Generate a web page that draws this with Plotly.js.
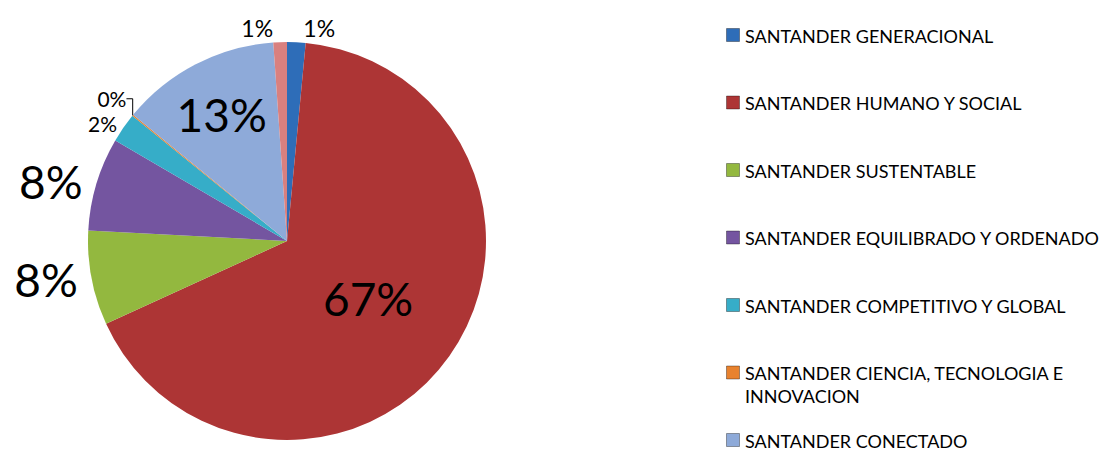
<!DOCTYPE html>
<html>
<head>
<meta charset="utf-8">
<script src="https://cdn.plot.ly/plotly-3.0.1.min.js"></script>
<style>html,body{margin:0;padding:0;background:#fff;}#chart{width:1112px;height:451px;}</style>
</head>
<body>
<div id="chart"></div>
<script>
// Data (percent of total)
const categories = [
  "SANTANDER GENERACIONAL",
  "SANTANDER HUMANO Y SOCIAL",
  "SANTANDER SUSTENTABLE",
  "SANTANDER EQUILIBRADO Y ORDENADO",
  "SANTANDER COMPETITIVO Y GLOBAL",
  "SANTANDER CIENCIA, TECNOLOGIA E INNOVACION",
  "SANTANDER CONECTADO",
  ""  // unnamed slice, not in legend
];
const values = [1.5, 66.8, 7.7, 7.6, 2.4, 0.1, 13.0, 1.1];
const colors = ["#2e6db8", "#ad3535", "#93b83f", "#7455a0", "#36adc8", "#e8822e", "#8eaad9", "#d9807f"];
const labelSizes = [23, 46, 46, 46, 21, 21, 46, 23];
const labelPositions = ["outside", "inside", "outside", "outside", "outside", "outside", "inside", "outside"];

const W = 1112, H = 451;
const font = "Lato, 'Open Sans', sans-serif";

const pie = {
  type: "pie",
  labels: categories.map((c, i) => c || ("otro" + i)),
  values: values,
  sort: false,
  direction: "clockwise",
  rotation: 0,
  marker: { colors: colors, line: { width: 0 } },
  texttemplate: "%{percent:.0%}",
  textposition: labelPositions,
  insidetextorientation: "horizontal",
  textfont: { family: font, size: labelSizes, color: "#000" },
  outsidetextfont: { family: font, size: labelSizes, color: "#000" },
  insidetextfont: { family: font, size: labelSizes, color: "#000" },
  domain: { x: [88 / W, 486 / W], y: [1 - 440 / H, 1 - 42 / H] },
  showlegend: false,
  hoverinfo: "label+percent"
};

// Custom legend built from the categories (only named ones)
const legendIdx = categories.map((c, i) => i).filter(i => categories[i]);
const legendTrace = {
  type: "scatter",
  mode: "markers",
  x: legendIdx.map(() => 0),
  y: legendIdx.map((_, k) => k),
  marker: { symbol: "square", size: 13, color: legendIdx.map(i => colors[i]), line: { width: 1, color: "rgba(0,0,0,0.35)" } },
  showlegend: false,
  hoverinfo: "skip",
  xaxis: "x", yaxis: "y"
};

function wrap(s, max) {
  const words = s.split(" ");
  const lines = [];
  let cur = "";
  words.forEach(w => {
    if (cur && (cur + " " + w).length > max) { lines.push(cur); cur = w; }
    else cur = cur ? cur + " " + w : w;
  });
  if (cur) lines.push(cur);
  return lines.join("<br>");
}

const legendFontSize = 18;
const annotations = legendIdx.map((i, k) => ({
  xref: "x", yref: "y",
  x: 10, y: k,
  text: wrap(categories[i], 33),
  showarrow: false,
  xanchor: "left", yanchor: "top",
  yshift: legendFontSize * 0.68,
  align: "left",
  font: { family: font, size: legendFontSize, color: "#000" }
}));

const r0 = -35 / 67.5;
const r1 = r0 + H / 67.5;

const layout = {
  width: W, height: H,
  margin: { l: 0, r: 0, t: 0, b: 0 },
  paper_bgcolor: "#fff",
  plot_bgcolor: "rgba(0,0,0,0)",
  showlegend: false,
  xaxis: { domain: [0, 1], range: [-733, W - 733], visible: false, fixedrange: true },
  yaxis: { domain: [0, 1], range: [r1, r0], visible: false, fixedrange: true },
  annotations: annotations
};

Plotly.newPlot("chart", [pie, legendTrace], layout, { staticPlot: true });
</script>
</body>
</html>
